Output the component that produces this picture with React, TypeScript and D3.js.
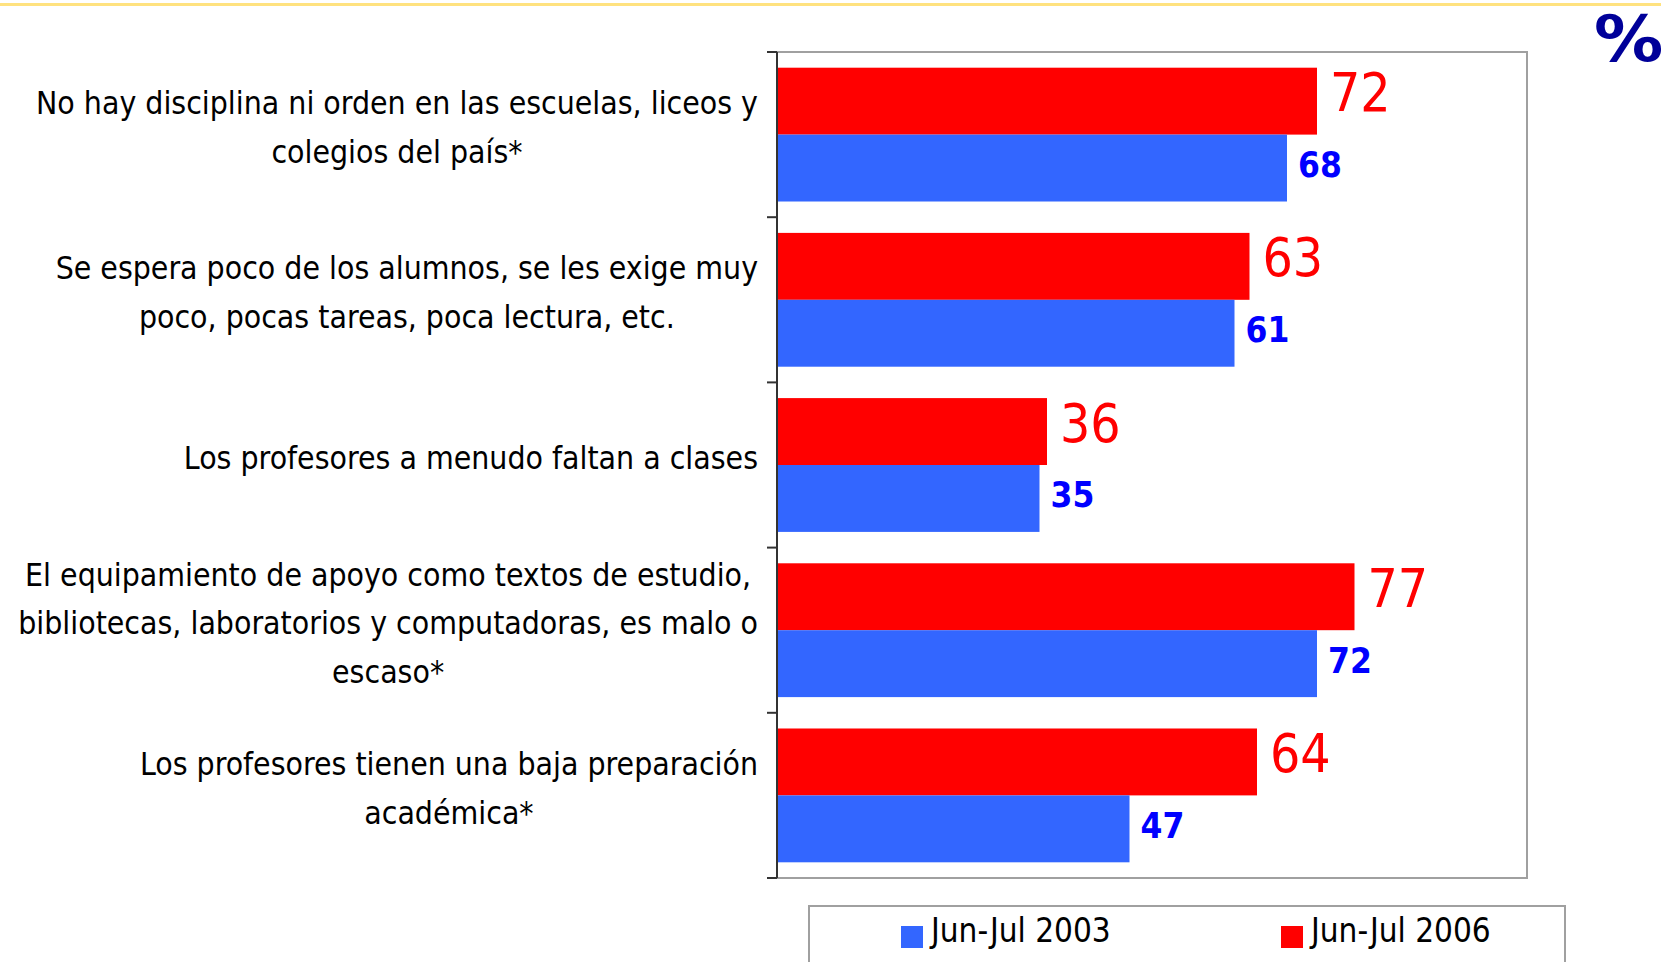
import * as d3 from "d3"
import { useRef, useEffect } from "react"

// category labels, already broken into lines as on the slide
const categories = [
  ["No hay disciplina ni orden en las escuelas, liceos y", "colegios del país*"],
  ["Se espera poco de los alumnos, se les exige muy", "poco, pocas tareas, poca lectura, etc."],
  ["Los profesores a menudo faltan a clases"],
  ["El equipamiento de apoyo como textos de estudio,", "bibliotecas, laboratorios y computadoras, es malo o", "escaso*"],
  ["Los profesores tienen una baja preparación", "académica*"],
]
const values2006 = [72, 63, 36, 77, 64]
const values2003 = [68, 61, 35, 72, 47]
const seriesNames = ["Jun-Jul 2003", "Jun-Jul 2006"]

export default function App() {
  const ref = useRef<SVGSVGElement>(null)

  useEffect(() => {
    const width = 1661
    const height = 962
    const plotLeft = 777
    const plotRight = 1527
    const plotTop = 52
    const plotBottom = 878
    const labelRight = 758
    const lineHeight = 48.7
    const font = "'DejaVu Sans Condensed', 'DejaVu Sans', sans-serif"
    const red = "#ff0000"
    const blue = "#3366ff"

    const svg = d3.select(ref.current)
    svg.selectAll("*").remove()
    svg.attr("width", width).attr("height", height)

    const x = d3.scaleLinear().domain([0, 100]).range([plotLeft, plotRight])
    const y = d3.scaleBand<number>()
      .domain(d3.range(categories.length))
      .range([plotTop, plotBottom])
      .paddingInner(0.19)
      .paddingOuter(0.095)
    const sub = d3.scaleBand<string>()
      .domain(["2006", "2003"])
      .range([0, y.bandwidth()])

    // yellow rule at the top of the slide
    svg.append("line")
      .attr("x1", 0).attr("x2", width)
      .attr("y1", 4.5).attr("y2", 4.5)
      .attr("stroke", "#ffe27f").attr("stroke-width", 3)

    // plot frame
    svg.append("rect")
      .attr("x", plotLeft).attr("y", plotTop)
      .attr("width", plotRight - plotLeft).attr("height", plotBottom - plotTop)
      .attr("fill", "none").attr("stroke", "#a0a0a0").attr("stroke-width", 2)

    const rows = svg.append("g")
      .selectAll("g")
      .data(categories.map((c, i) => ({ lines: c, i, v06: values2006[i], v03: values2003[i] })))
      .join("g")
      .attr("transform", (d) => `translate(0,${y(d.i)})`)

    rows.append("rect")
      .attr("x", x(0))
      .attr("y", sub("2006")!)
      .attr("width", (d) => x(d.v06) - x(0))
      .attr("height", sub.bandwidth())
      .attr("fill", red)

    rows.append("rect")
      .attr("x", x(0))
      .attr("y", sub("2003")!)
      .attr("width", (d) => x(d.v03) - x(0))
      .attr("height", sub.bandwidth())
      .attr("fill", blue)

    rows.append("text")
      .attr("x", (d) => x(d.v06) + 13)
      .attr("y", sub("2006")! + sub.bandwidth() / 2 + 10)
      .attr("font-family", font)
      .attr("font-stretch", "condensed")
      .attr("font-size", 53)
      .attr("fill", red)
      .text((d) => d.v06)

    rows.append("text")
      .attr("x", (d) => x(d.v03) + 11)
      .attr("y", sub("2003")! + sub.bandwidth() / 2 + 9)
      .attr("font-family", font)
      .attr("font-stretch", "condensed")
      .attr("font-weight", "bold")
      .attr("font-size", 35)
      .attr("fill", "#0000ff")
      .text((d) => d.v03)

    // category labels: block right-aligned, lines centred inside it
    rows.each(function (d) {
      const g = d3.select(this)
      const mid = y.bandwidth() / 2
      const t = g.append("text")
        .attr("font-family", font)
        .attr("font-stretch", "condensed")
        .attr("font-size", 31.7)
        .attr("fill", "#000")
        .attr("text-anchor", "middle")
      const spans = t.selectAll("tspan")
        .data(d.lines)
        .join("tspan")
        .attr("y", (_, k) => mid + (k - (d.lines.length - 1) / 2) * lineHeight + 4)
        .text((s) => s)
      let maxW = 0
      spans.each(function () {
        maxW = Math.max(maxW, (this as SVGTSpanElement).getComputedTextLength())
      })
      spans.attr("x", labelRight - maxW / 2)
    })

    // left axis with ticks on category boundaries
    const axis = svg.append("g").attr("stroke", "#333").attr("stroke-width", 2)
    axis.append("line")
      .attr("x1", plotLeft).attr("x2", plotLeft)
      .attr("y1", plotTop).attr("y2", plotBottom)
    axis.selectAll("line.tick")
      .data(d3.range(categories.length + 1))
      .join("line")
      .attr("class", "tick")
      .attr("x1", plotLeft - 10).attr("x2", plotLeft)
      .attr("y1", (i) => plotTop + i * y.step())
      .attr("y2", (i) => plotTop + i * y.step())

    // legend
    svg.append("rect")
      .attr("x", 809).attr("y", 906)
      .attr("width", 756).attr("height", 80)
      .attr("fill", "#fff").attr("stroke", "#a0a0a0").attr("stroke-width", 2)

    const legend = svg.append("g")
      .selectAll("g")
      .data(seriesNames.map((name, i) => ({ name, color: i === 0 ? blue : red })))
      .join("g")
      .attr("transform", (_, i) => `translate(${901 + i * 380},926)`)
    legend.append("rect")
      .attr("width", 22).attr("height", 22)
      .attr("fill", (d) => d.color)
    legend.append("text")
      .attr("x", 30).attr("y", 16)
      .attr("font-family", font)
      .attr("font-stretch", "condensed")
      .attr("font-size", 33)
      .attr("fill", "#000")
      .text((d) => d.name)

    // "%" sign in the corner, clipped by the slide edge
    svg.append("text")
      .attr("transform", "translate(1594,61) scale(1.2,1)")
      .attr("font-family", font)
      .attr("font-weight", "bold")
      .attr("font-size", 64)
      .attr("fill", "#000099")
      .text("%")
  }, [])

  return (
    <div style={{ position: "fixed", left: 0, top: 0, background: "#fff" }}>
      <svg ref={ref} style={{ display: "block" }}></svg>
    </div>
  )
}
